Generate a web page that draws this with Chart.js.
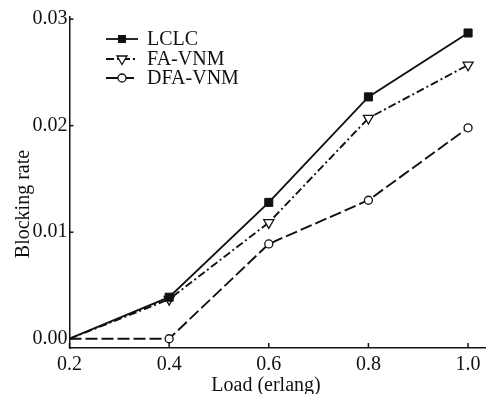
<!DOCTYPE html>
<html>
<head>
<meta charset="utf-8">
<script src="https://cdn.jsdelivr.net/npm/chart.js@4.4.0/dist/chart.umd.min.js"></script>
<style>
  body { margin: 0; background: #fff; }
  #wrap { width: 486px; height: 394px; }
</style>
</head>
<body>
<div id="wrap"><canvas id="myChart" width="486" height="394"></canvas></div>
<script>
const loads = [0.2, 0.4, 0.6, 0.8, 1.0];
const lclc = [0.0, 0.0039, 0.0128, 0.0227, 0.0287];
const faVnm = [0.0, 0.0037, 0.0109, 0.0207, 0.0257];
const dfaVnm = [0.0, 0.0, 0.0089, 0.0130, 0.0198];
const xTicks = [0.2, 0.4, 0.6, 0.8, 1.0];
const yTicks = [0.00, 0.01, 0.02, 0.03];

const FONT = "'Liberation Serif', 'Times New Roman', serif";
const INK = '#111';

function drawMarker(ctx, style, x, y) {
    ctx.save();
    ctx.setLineDash([]);
    ctx.lineWidth = 1.3;
    ctx.strokeStyle = INK;
    ctx.beginPath();
    if (style === 'rect') {
        ctx.fillStyle = INK;
        ctx.rect(x - 4, y - 4, 8, 8);
        ctx.fill();
    } else if (style === 'triangle') {
        ctx.fillStyle = '#fff';
        ctx.moveTo(x - 5, y - 3);
        ctx.lineTo(x + 5, y - 3);
        ctx.lineTo(x, y + 5.5);
        ctx.closePath();
        ctx.fill();
        ctx.stroke();
    } else {
        ctx.fillStyle = '#fff';
        ctx.arc(x, y, 4, 0, Math.PI * 2);
        ctx.fill();
        ctx.stroke();
    }
    ctx.restore();
}

const overlay = {
    id: 'overlay',
    afterDraw: (chart) => {
        const ctx = chart.ctx;
        const x = chart.scales.x, y = chart.scales.y;
        ctx.save();
        // inward tick marks
        ctx.strokeStyle = INK;
        ctx.lineWidth = 1.5;
        xTicks.forEach(v => {
            const px = x.getPixelForValue(v);
            ctx.beginPath(); ctx.moveTo(px, y.bottom); ctx.lineTo(px, y.bottom - 5); ctx.stroke();
        });
        yTicks.forEach(v => {
            const py = y.getPixelForValue(v);
            ctx.beginPath(); ctx.moveTo(x.left, py); ctx.lineTo(x.left + 4, py); ctx.stroke();
        });

        // axis titles
        ctx.fillStyle = INK;
        ctx.font = '20px ' + FONT;
        ctx.textAlign = 'center';
        ctx.textBaseline = 'alphabetic';
        ctx.fillText('Load (erlang)', 266, 391);
        ctx.save();
        ctx.translate(29, 204);
        ctx.rotate(-Math.PI / 2);
        ctx.fillText('Blocking rate', 0, 0);
        ctx.restore();

        // legend
        const rows = [39, 59, 78];
        chart.data.datasets.forEach((ds, i) => {
            const ry = rows[i];
            ctx.save();
            ctx.strokeStyle = INK;
            ctx.lineWidth = 1.8;
            ctx.setLineDash(ds.borderDash || []);
            ctx.beginPath(); ctx.moveTo(106, ry); ctx.lineTo(138, ry); ctx.stroke();
            ctx.restore();
            drawMarker(ctx, ds.pointStyle, 122, ry);
            ctx.fillStyle = INK;
            ctx.textAlign = 'left';
            ctx.textBaseline = 'middle';
            ctx.fillText(ds.label, 147, ry + 1);
        });
        ctx.restore();
    }
};

const hideFirst = (r) => (c) => c.dataIndex === 0 ? 0 : r;
const noPad = (s) => { s.paddingLeft = 0; s.paddingRight = 0; s.paddingTop = 0; s.paddingBottom = 0; };

let ctx = document.getElementById('myChart').getContext('2d');
let myChart = new Chart(ctx, {
    type: 'line',
    data: {
        datasets: [{
            label: 'LCLC',
            data: loads.map((v, i) => ({x: v, y: lclc[i]})),
            borderColor: INK,
            borderWidth: 1.9,
            pointStyle: 'rect',
            pointRadius: hideFirst(5.7),
            pointBackgroundColor: INK,
            pointBorderColor: INK,
            pointBorderWidth: 1
        }, {
            label: 'FA-VNM',
            data: loads.map((v, i) => ({x: v, y: faVnm[i]})),
            borderColor: INK,
            borderWidth: 1.9,
            borderDash: [8, 3, 2, 3],
            pointStyle: 'triangle',
            pointRotation: 180,
            pointRadius: hideFirst(5.8),
            pointBackgroundColor: '#fff',
            pointBorderColor: INK,
            pointBorderWidth: 1.3
        }, {
            label: 'DFA-VNM',
            data: loads.map((v, i) => ({x: v, y: dfaVnm[i]})),
            borderColor: INK,
            borderWidth: 1.9,
            borderDash: [12, 4],
            pointStyle: 'circle',
            pointRadius: hideFirst(4),
            pointBackgroundColor: '#fff',
            pointBorderColor: INK,
            pointBorderWidth: 1.3
        }]
    },
    options: {
        responsive: false,
        animation: false,
        layout: { autoPadding: false, padding: { top: 17, right: 0, left: 0, bottom: 0 } },
        plugins: {
            legend: { display: false },
            tooltip: { enabled: false }
        },
        scales: {
            x: {
                type: 'linear',
                min: 0.2,
                max: 1.036,
                afterBuildTicks: (s) => { s.ticks = xTicks.map(v => ({value: v})); },
                afterFit: (s) => { s.height = 46; noPad(s); },
                grid: { display: false, drawTicks: false },
                border: { display: true, color: INK, width: 1.5 },
                ticks: {
                    color: INK,
                    padding: 5,
                    font: { family: FONT, size: 20 },
                    callback: (v) => v.toFixed(1),
                    maxRotation: 0
                }
            },
            y: {
                type: 'linear',
                min: -0.00087,
                max: 0.0302,
                afterBuildTicks: (s) => { s.ticks = yTicks.map(v => ({value: v})); },
                afterFit: (s) => { s.width = 69.5; noPad(s); },
                grid: { display: false, drawTicks: false },
                border: { display: true, color: INK, width: 1.5 },
                ticks: {
                    color: INK,
                    padding: 2,
                    font: { family: FONT, size: 20 },
                    callback: (v) => v.toFixed(2)
                }
            }
        }
    },
    plugins: [overlay]
});
</script>
</body>
</html>
